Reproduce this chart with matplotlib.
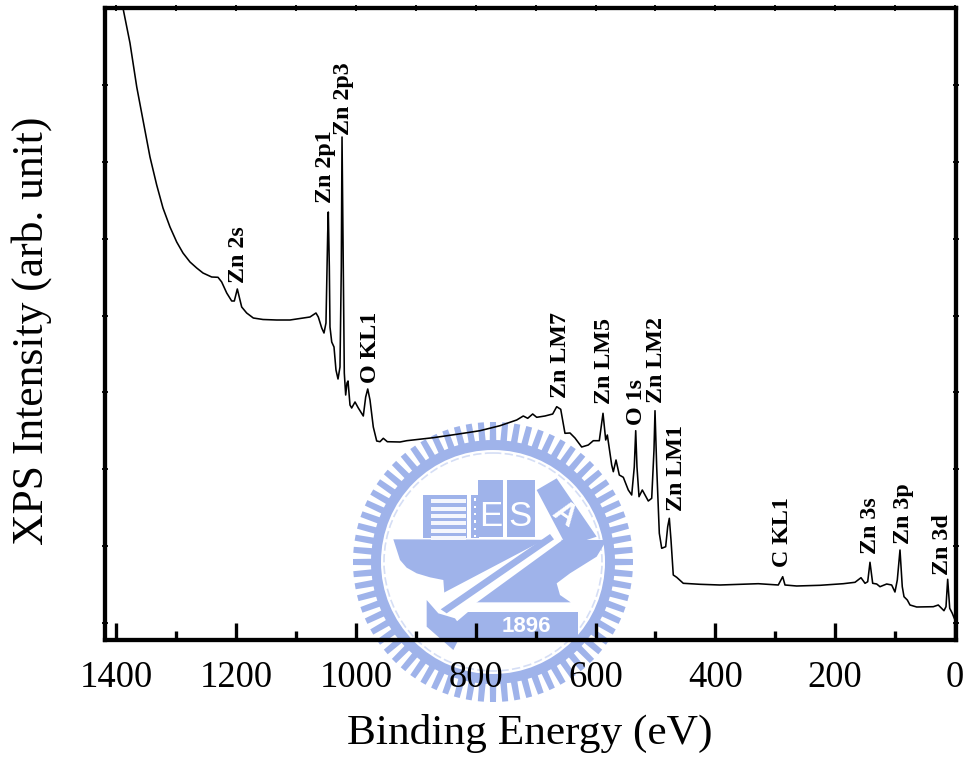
import numpy as np
import matplotlib
matplotlib.use("Agg")
import matplotlib.pyplot as plt
from matplotlib.patches import Circle, Polygon, Rectangle
from matplotlib.transforms import Affine2D

# XPS survey spectrum
binding_energy = [
    1389, 1377.3, 1366, 1355.6, 1343.9, 1332.7, 1322.2, 1310.5, 1299.3, 1288.8, 1277.1, 1265.9,
    1255.4, 1240.9, 1230.3, 1224.2, 1215.8, 1207.5, 1203.1, 1198.1, 1194.8, 1190.8, 1182.5, 1171.4,
    1155.2, 1132.4, 1110.2, 1088.4, 1076.8, 1066.8, 1062.9, 1057.2, 1053.4, 1050.1, 1047.2, 1046.2,
    1044.5, 1043.4, 1040.5, 1036.7, 1033.4, 1030, 1026.7, 1024.5, 1023.3, 1021.2, 1019.5, 1017.2,
    1015, 1013.3, 1010, 1007.2, 1001.6, 996.1, 987.8, 983.8, 980.4, 976.6, 971.1, 965.4,
    959.9, 954.4, 947.7, 926.5, 915.3, 870.9, 831.9, 793, 759.6, 731.7, 720.7, 713.3,
    705, 698.3, 684.5, 671.6, 664.9, 658.2, 651.1, 642.7, 634.4, 623.2, 612.2, 603.8,
    593.8, 587.6, 583.1, 580.4, 573.1, 570.4, 565.9, 560.4, 553.7, 545.4, 539.7, 535.4,
    533, 530.9, 527.5, 522, 512, 506.3, 502.5, 500.8, 498, 493.6, 489.6, 483,
    479.6, 476.9, 474.1, 470.3, 464.6, 453.6, 425.7, 392.3, 358.9, 328.4, 295, 287.6,
    283.8, 264.3, 225.4, 186.5, 166.9, 156.9, 150.2, 145.7, 141.9, 137.4, 130.7, 125.2,
    114, 105.7, 100.2, 96.3, 91.8, 88, 85.1, 79.6, 75.1, 63.9, 36.2, 27.9,
    18.4, 15, 12.2, 8.8, 4.5, 0,
]
intensity = [
    632, 597, 553, 520, 483, 455, 432, 413, 398, 387, 378, 372,
    367, 363, 362.7, 358, 347, 339, 339, 351, 343, 333, 327, 322,
    320.5, 320, 320, 322, 323, 327, 323, 312, 307, 317, 407, 428,
    373, 313, 298, 293, 270, 261, 273, 373, 503, 373, 267, 245,
    257, 259, 235, 232, 238, 232, 224, 243, 251, 240, 213, 199,
    198.3, 201.7, 198.3, 198, 199.3, 202.3, 205.7, 209.3, 214.3, 220, 224, 221.7,
    226, 222.7, 224, 226, 233.3, 230.7, 206.7, 207, 202, 193, 195, 199.3,
    199.3, 226.7, 200, 205, 175, 168.3, 180, 165, 162.7, 150, 145, 173,
    209.3, 173, 143.3, 150, 139, 141.7, 190, 229.3, 173.3, 106.7, 91.7, 93.3,
    113.3, 121.7, 100, 65, 62.7, 56.7, 55.7, 55, 55.7, 56.3, 55, 63.3,
    55, 54, 54.7, 56.3, 57.7, 62.3, 56.7, 58.3, 77.7, 56.7, 56, 53.3,
    56, 55, 48, 60, 90, 53.3, 43.3, 40, 35, 33, 33.3, 35,
    29.3, 33.3, 60.7, 31.7, 26.7, 20,
]

x_major = [1400, 1200, 1000, 800, 600, 400, 200, 0]
x_minor = [1300, 1100, 900, 700, 500, 300, 100]
y_marks = [17, 94, 171, 248, 324, 401, 478, 555]

peak_labels = ["Zn 2s", "Zn 2p1", "Zn 2p3", "O KL1", "Zn LM7", "Zn LM5", "O 1s",
               "Zn LM2", "Zn LM1", "C KL1", "Zn 3s", "Zn 3p", "Zn 3d"]
label_px = [(239, 283), (325, 203), (344, 135), (371, 383), (560, 398), (605, 404), (637, 425),
            (657, 403), (676, 511), (783, 567), (871, 554), (904, 544), (942, 575)]

W, H = 968, 758
SERIF = "Liberation Serif"
BLUE = "#9fb3ea"

fig = plt.figure(figsize=(W / 100, H / 100), dpi=100)
ax = fig.add_axes([105 / W, (H - 640) / H, 851 / W, 632 / H])
ax.patch.set_visible(False)

# picture pixels (y down) to display coordinates
px = Affine2D().scale(1, -1).translate(0, H)


def mark(artist):
    artist.set_transform(px)
    artist.set_zorder(-1)
    fig.add_artist(artist)


def z(points):
    # outline points measured on the crop of the logo
    return [(340 + a / 3, 400 + b / 3) for a, b in points]


# watermark behind the axes
cx, cy = 493, 562
for a in np.arange(0, 360, 5):
    t = np.radians(a)
    c, s = np.cos(t), np.sin(t)
    n = np.array([-s, c]) * 3
    p = np.array([c, s])
    pts = [p * 118 + n * 1.1, p * 140 + n, p * 140 - n, p * 118 - n * 1.1]
    mark(Polygon([(cx + q[0], cy + q[1]) for q in pts], closed=True, fc=BLUE, ec="none"))
mark(Circle((cx, cy), 122, fc=BLUE, ec="none"))
mark(Circle((cx, cy), 112, fc="white", ec="none"))
mark(Circle((cx, cy), 109, fc="none", ec="#d5def5", lw=1.2, ls=(0, (5, 2))))

anvil = [(160, 418), (800, 420), (770, 470), (690, 520), (650, 550), (660, 585), (692, 607),
         (315, 607), (310, 540), (270, 532), (230, 520), (200, 503), (180, 480)]
mark(Polygon(z(anvil), closed=True, fc=BLUE, ec="none"))
mark(Rectangle(z([(250, 285)])[0], 130 / 3, 130 / 3, fc=BLUE, ec="none"))
for b in range(298, 410, 22):
    mark(Rectangle(z([(272, b)])[0], 105 / 3, 12 / 3, fc="#f4f6fd", ec="none"))
mark(Rectangle(z([(392, 285)])[0], 24 / 3, 130 / 3, fc=BLUE, ec="none"))
for b in range(295, 410, 22):
    mark(Rectangle(z([(402, b)])[0], 7 / 3, 7 / 3, fc="white", ec="none"))
mark(Rectangle(z([(415, 240)])[0], 75 / 3, 170 / 3, fc=BLUE, ec="none"))
mark(Rectangle(z([(500, 240)])[0], 85 / 3, 170 / 3, fc=BLUE, ec="none"))
mark(Polygon(z([(590, 270), (650, 235), (770, 410), (680, 440)]), closed=True, fc=BLUE, ec="none"))
mark(Polygon(z([(650, 400), (665, 422), (345, 655), (300, 640), (270, 600)]), closed=True, fc="white", ec="none"))
mark(Polygon(z([(630, 402), (642, 418), (320, 640), (302, 628)]), closed=True, fc=BLUE, ec="none"))
mark(Polygon(z([(260, 600), (295, 640), (345, 655), (370, 690), (340, 750), (260, 680)]), closed=True, fc=BLUE, ec="none"))
mark(Polygon(z([(385, 635), (715, 635), (715, 715), (345, 715), (345, 670)]), closed=True, fc=BLUE, ec="none"))
for s, a, b, r, size in [("E", 452, 350, 0, 25), ("S", 541, 350, 0, 25), ("A", 672, 345, -35, 22), ("1896", 560, 678, 0, 16)]:
    q = z([(a, b)])[0]
    fig.text(q[0], q[1], s, transform=px, color="white", family="Liberation Sans",
             fontsize=size, fontweight="bold" if s in ("A", "1896") else "normal",
             ha="center", va="center", rotation=r, zorder=-1)

ax.plot(binding_energy, intensity, color="black", lw=1.15)
ax.set_xlim(1419, -1.7)
ax.set_ylim(0, 632)

for sp in ax.spines.values():
    sp.set_linewidth(3.1)

ax.set_xticks(x_major)
ax.set_xticks(x_minor, minor=True)
ax.set_yticks(y_marks)
ax.tick_params(axis="x", which="major", direction="in", length=12, width=2.4, pad=15,
               labelsize=26.3, labelfontfamily=SERIF)
ax.tick_params(axis="x", which="minor", direction="in", length=6.5, width=2.4)
ax.tick_params(axis="y", which="major", direction="inout", length=4.5, width=1.3, right=True,
               labelleft=False)

top = ax.secondary_xaxis("top")
top.set_xticks(x_major + x_minor)
top.tick_params(axis="x", direction="inout", length=4.5, width=1.3, labeltop=False)
top.spines["top"].set_visible(False)

ax.set_xlabel("Binding Energy (eV)", family=SERIF, fontsize=31.2, va="baseline", ha="center")
ax.xaxis.set_label_coords(530, 744, transform=px)
ax.set_ylabel("XPS Intensity (arb. unit)", family=SERIF, fontsize=31.4, va="center", ha="center")
ax.yaxis.set_label_coords(32, 331, transform=px)

for label, (lx, ly) in zip(peak_labels, label_px):
    ax.text(lx, ly, label, transform=px, rotation=90, family=SERIF, fontweight="bold",
            fontsize=17.3, ha="center", va="bottom", clip_on=False)

fig.savefig("out.png", dpi=100)
